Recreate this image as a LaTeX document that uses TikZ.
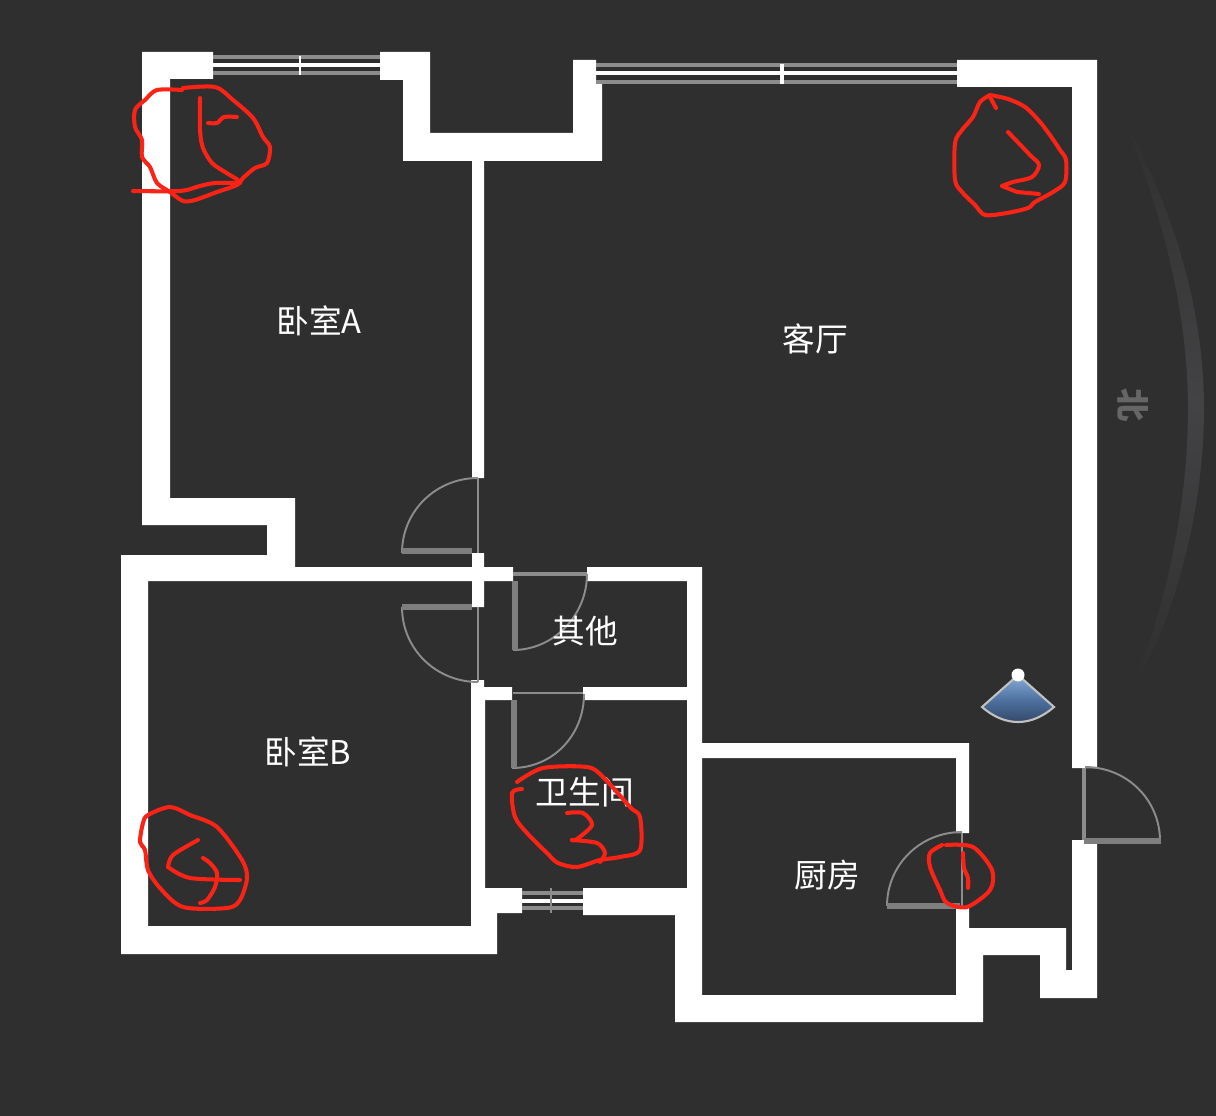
\documentclass[tikz,border=0pt]{standalone}
\usepackage{fontspec}
\setmainfont{Noto Sans CJK SC}
\definecolor{bgdark}{HTML}{2F2F2F}
\definecolor{doorgray}{HTML}{8C8C8C}
\definecolor{leafgray}{HTML}{7E7E7E}
\definecolor{northgray}{HTML}{666666}
\definecolor{penred}{HTML}{FB2216}
\definecolor{arcgray}{HTML}{434345}
\definecolor{conetop}{HTML}{86ACD8}
\definecolor{conemid}{HTML}{4C6F9D}
\definecolor{conebot}{HTML}{2F405C}
\tikzset{
	wall/.style={fill=white},
	roomlabel/.style={text=white, inner sep=0pt, font=\fontsize{9.3pt}{11pt}\selectfont},
	doorarc/.style={draw=doorgray, line width=0.55pt},
	doorleaf/.style={draw=leafgray, line width=1.5pt},
	glass/.style={draw=doorgray, line width=1.1pt},
	glasswhite/.style={draw=white, line width=1.4pt},
	scribble/.style={draw=penred, line width=1.15pt, line join=round, line cap=round},
}

\begin{document}
\begin{tikzpicture}[x=0.01cm, y=-0.01cm]
	\fill[bgdark] (0, 0) rectangle (1216, 1116);

	\path[top color=bgdark, bottom color=bgdark, middle color=arcgray] (1122, 115) .. controls (1185, 230) and (1204, 330) .. (1204, 408) .. controls (1204, 500) and (1180, 610) .. (1132, 690) .. controls (1168, 600) and (1188, 500) .. (1188, 408) .. controls (1188, 330) and (1170, 230) .. (1122, 115) -- cycle;
	\node[text=northgray, inner sep=0pt, rotate=-90, font=\bfseries\fontsize{9.5pt}{12pt}\selectfont] (north) at (1133, 405) {北};

	\fill[wall] (142, 52) -- (213, 52) -- (213, 79) -- (170, 79) -- (170, 498) -- (295, 498) -- (295, 567) -- (472, 567) -- (472, 553) -- (484, 553) -- (484, 567) -- (513, 567) -- (513, 581) -- (484, 581) -- (484, 607) -- (472, 607) -- (472, 581) -- (148, 581) -- (148, 926) -- (471, 926) -- (471, 680) -- (484, 680) -- (484, 687) -- (512, 687) -- (512, 700) -- (485, 700) -- (485, 888) -- (522, 888) -- (522, 913) -- (497, 913) -- (497, 954) -- (121, 954) -- (121, 555) -- (267, 555) -- (267, 525) -- (142, 525) -- cycle;
	\fill[wall] (380, 52) -- (430, 52) -- (430, 133) -- (573, 133) -- (573, 60) -- (596, 60) -- (596, 84) -- (602, 84) -- (602, 161) -- (484, 161) -- (484, 478) -- (472, 478) -- (472, 161) -- (403, 161) -- (403, 80) -- (380, 80) -- cycle;
	\fill[wall] (957, 60) -- (1097, 60) -- (1097, 768) -- (1072, 768) -- (1072, 87) -- (957, 87) -- cycle;
	\fill[wall] (587, 567) -- (702, 567) -- (702, 743) -- (969, 743) -- (969, 833) -- (956, 833) -- (956, 758) -- (702, 758) -- (702, 995) -- (956, 995) -- (956, 907) -- (969, 907) -- (969, 928) -- (1066, 928) -- (1066, 970) -- (1072, 970) -- (1072, 840) -- (1097, 840) -- (1097, 998) -- (1040, 998) -- (1040, 955) -- (983, 955) -- (983, 1022) -- (675, 1022) -- (675, 915) -- (583, 915) -- (583, 888) -- (687, 888) -- (687, 700) -- (583, 700) -- (583, 687) -- (687, 687) -- (687, 581) -- (587, 581) -- cycle;

	\draw[glass] (213, 57) -- (380, 57);
	\draw[glass] (213, 73) -- (380, 73);
	\draw[glasswhite] (213, 65) -- (380, 65);
	\draw[glasswhite, line width=0.6pt] (300, 56) -- (300, 75);

	\draw[glass] (596, 65) -- (957, 65);
	\draw[glass] (596, 82) -- (957, 82);
	\draw[glasswhite] (596, 73) -- (957, 73);
	\draw[glasswhite, line width=0.9pt] (782, 64) -- (782, 84);

	\draw[glass] (522, 893) -- (583, 893);
	\draw[glass] (522, 908) -- (583, 908);
	\draw[glasswhite] (522, 901) -- (583, 901);
	\draw[glass, line width=0.4pt] (551, 888) -- (551, 913);

	\draw[doorarc] (478, 478) -- (478, 553);
	\draw[doorarc] (478, 478) .. controls (436, 478) and (402, 511) .. (402, 553);
	\draw[doorleaf] (402, 551) -- (472, 551);

	\draw[doorarc] (478, 607) -- (478, 682);
	\draw[doorarc] (402, 607) .. controls (402, 649) and (436, 682) .. (478, 682);
	\draw[doorleaf] (402, 607) -- (472, 607);

	\draw[doorarc, line width=1pt] (513, 574) -- (587, 574);
	\draw[doorarc] (587, 574) .. controls (587, 615) and (554, 650) .. (513, 650);
	\draw[doorleaf] (515, 581) -- (515, 650);

	\draw[doorarc] (513, 693) -- (583, 693);
	\draw[doorarc] (584, 694) .. controls (584, 735) and (553, 768) .. (512, 768);
	\draw[doorleaf] (514, 700) -- (514, 768);

	\draw[doorarc] (962, 833) -- (962, 907);
	\draw[doorarc] (962, 832) .. controls (920, 832) and (887, 865) .. (887, 906);
	\draw[doorleaf] (887, 906) -- (960, 906);

	\draw[doorarc, line width=0.9pt] (1084, 768) -- (1084, 840);
	\draw[doorarc] (1085, 767) .. controls (1127, 767) and (1160, 800) .. (1160, 841);
	\draw[doorleaf] (1084, 841) -- (1161, 841);

	\path[draw=white!70!bgdark, line width=0.6pt, top color=conetop, bottom color=conebot, middle color=conemid] (1018, 675) -- (982, 707) .. controls (1005, 727) and (1031, 727) .. (1054, 707) -- cycle;
	\fill[white] (1018, 675) circle (6.5);

	\node[roomlabel] (bedrooma) at (319, 321) {卧室A};
	\node[roomlabel] (living) at (815, 339) {客厅};
	\node[roomlabel] (other) at (585, 631) {其他};
	\node[roomlabel] (bedroomb) at (308, 752) {卧室B};
	\node[roomlabel] (bath) at (585, 792) {卫生间};
	\node[roomlabel] (kitchen) at (827, 875) {厨房};

	\draw[scribble] plot[smooth] coordinates {(182, 90) (157, 90) (145, 100) (135, 110) (135, 127) (142, 140) (142, 157) (150, 167) (157, 183) (170, 192) (183, 201) (195, 200) (217, 192) (237, 185) (243, 178) (255, 168) (267, 163) (270, 147) (263, 137) (253, 118) (233, 100) (215, 87) (183, 88)};
	\draw[scribble] plot[smooth] coordinates {(200, 98) (200, 130) (203, 148) (212, 163) (225, 172) (238, 180) (240, 183)};
	\draw[scribble] plot[smooth] coordinates {(133, 191) (180, 191) (200, 186) (215, 183) (240, 183)};
	\draw[scribble] plot[smooth] coordinates {(208, 123) (217, 123) (224, 117) (237, 117)};

	\draw[scribble] plot[smooth] coordinates {(990, 95) (980, 102) (973, 117) (962, 130) (955, 143) (955, 180) (962, 192) (975, 205) (985, 215) (1007, 213) (1028, 208) (1035, 202) (1053, 192) (1065, 182) (1066, 160) (1060, 150) (1052, 138) (1040, 122) (1025, 107) (1008, 99) (990, 95)};
	\draw[scribble] (990, 97) -- (996, 108);
	\draw[scribble] plot[smooth] coordinates {(1008, 132) (1030, 155) (1039, 165) (1032, 177) (1013, 182) (1002, 186)};
	\draw[scribble] (1002, 186) -- (1017, 192) -- (1039, 194);

	\draw[scribble] plot[smooth] coordinates {(517, 782) (543, 768) (587, 767) (603, 777) (630, 807) (640, 817) (640, 850) (620, 857) (600, 860) (577, 867) (558, 863) (547, 853) (527, 833) (515, 817) (512, 793) (522, 789)};
	\draw[scribble] plot[smooth] coordinates {(567, 813) (583, 813) (592, 825) (577, 839) (572, 840)};
	\draw[scribble] plot[smooth] coordinates {(572, 840) (597, 843) (605, 853) (600, 862)};

	\draw[scribble] plot[smooth cycle] coordinates {(170, 807) (148, 815) (143, 823) (140, 842) (145, 850) (148, 870) (160, 888) (183, 907) (227, 908) (240, 900) (247, 878) (242, 860) (217, 827) (190, 815)};
	\draw[scribble] plot[smooth] coordinates {(198, 840) (173, 855) (168, 867)};
	\draw[scribble] plot[smooth] coordinates {(168, 867) (190, 878) (240, 880)};
	\draw[scribble] plot[smooth] coordinates {(203, 858) (210, 863) (217, 873) (215, 887) (207, 900) (200, 903)};

	\draw[scribble] plot[smooth] coordinates {(942, 845) (930, 853) (930, 867) (940, 890) (947, 903) (967, 907) (990, 890) (992, 870) (973, 847) (946, 845)};
	\draw[scribble] plot[smooth] coordinates {(963, 853) (964, 868) (968, 878) (968, 888)};
\end{tikzpicture}
\end{document}
